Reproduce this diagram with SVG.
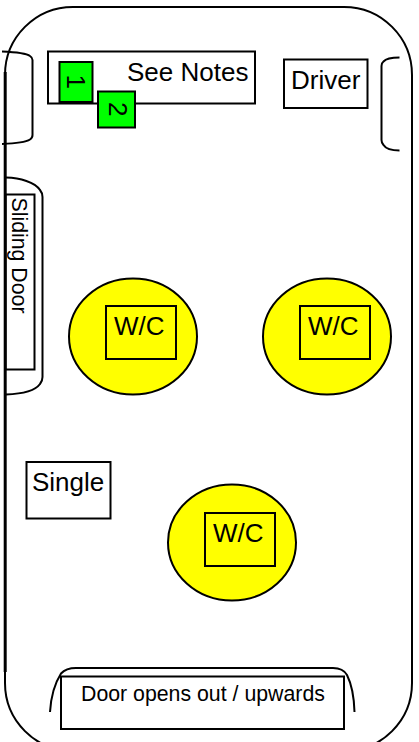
<svg xmlns="http://www.w3.org/2000/svg" width="419" height="742" viewBox="0 0 419 742">
<style>
.s{fill:none;stroke:#000;stroke-width:2}
.b{fill:#fff;stroke:#000;stroke-width:2}
.y{fill:#ff0;stroke:#000;stroke-width:2}
.g{fill:#0f0;stroke:#000;stroke-width:2}
text{font-family:"Liberation Sans",Arial,sans-serif;fill:#000}
.l{font-size:26px}
.m{font-size:21.3px}
</style>
<rect width="419" height="742" fill="#fff"/>
<g id="body"><rect class="s" x="5" y="7" width="407" height="744" rx="68" ry="68"/></g>
<g id="connectors"></g>
<g id="door-left-front"><path class="s" d="M2 51.500C14 52 26 53 30 56Q32.500 57.500 32.500 60L32.500 135Q32.500 138 30 139.500C26 142 14 143.500 2 144"/></g>
<g id="door-right-front"><path class="s" d="M399.500 57.500C392 57.500 386 58.500 383.500 61.500Q381.500 63 381.500 66L381.500 140Q381.500 143 383.500 145C386 149 392 150.500 399.500 150.500"/></g>
<g id="sliding-door">
<path class="s" d="M6 177.500C20 178 35 182 40 190Q42.500 193 42.500 197L42.500 377Q42.500 381 40 384C35 391 20 394 6 394.500"/>
<rect class="b" x="5.500" y="194.500" width="29" height="175"/>
<text class="m" transform="translate(12 197.500) rotate(90)">Sliding Door</text>
</g>
<g id="left-wall"><path class="s" style="stroke-width:3" d="M5.200 72L5.200 672"/></g>
<g id="notes">
<rect class="b" x="48" y="51.500" width="207" height="52"/>
<text class="l" x="127" y="81">See Notes</text>
</g>
<g id="seat-1"><rect class="g" x="59.500" y="62" width="33" height="40"/><text class="l" transform="translate(66.500 74.500) rotate(90)">1</text></g>
<g id="seat-2"><rect class="g" x="98" y="91.500" width="37" height="36"/><text class="l" transform="translate(108.500 102) rotate(90)">2</text></g>
<g id="driver"><rect class="b" x="284" y="59.500" width="83.500" height="48.500"/><text class="l" x="291" y="89">Driver</text></g>
<g id="wc-1"><ellipse class="y" cx="133" cy="336.500" rx="64" ry="58"/><rect class="b" style="fill:none" x="106" y="306" width="70" height="53"/><text class="l" x="114" y="335">W/C</text></g>
<g id="wc-2"><ellipse class="y" cx="327" cy="336.500" rx="64" ry="58"/><rect class="b" style="fill:none" x="300" y="306" width="70" height="53"/><text class="l" x="308" y="335">W/C</text></g>
<g id="wc-3"><ellipse class="y" cx="232" cy="542.500" rx="64" ry="58"/><rect class="b" style="fill:none" x="205" y="513" width="70" height="53"/><text class="l" x="213" y="542">W/C</text></g>
<g id="single"><rect class="b" x="26.500" y="462" width="84" height="56.500"/><text class="l" x="32" y="491">Single</text></g>
<g id="rear-door">
<path class="s" d="M50 712C51 695 55 683 61 673.500Q66 668 76 668L333 668Q343 668 347 675C351 683 354 695 354.500 712"/>
<rect class="s" x="61" y="676.500" width="283" height="52.500"/>
<text class="m" x="81" y="701">Door opens out / upwards</text>
</g>
</svg>
